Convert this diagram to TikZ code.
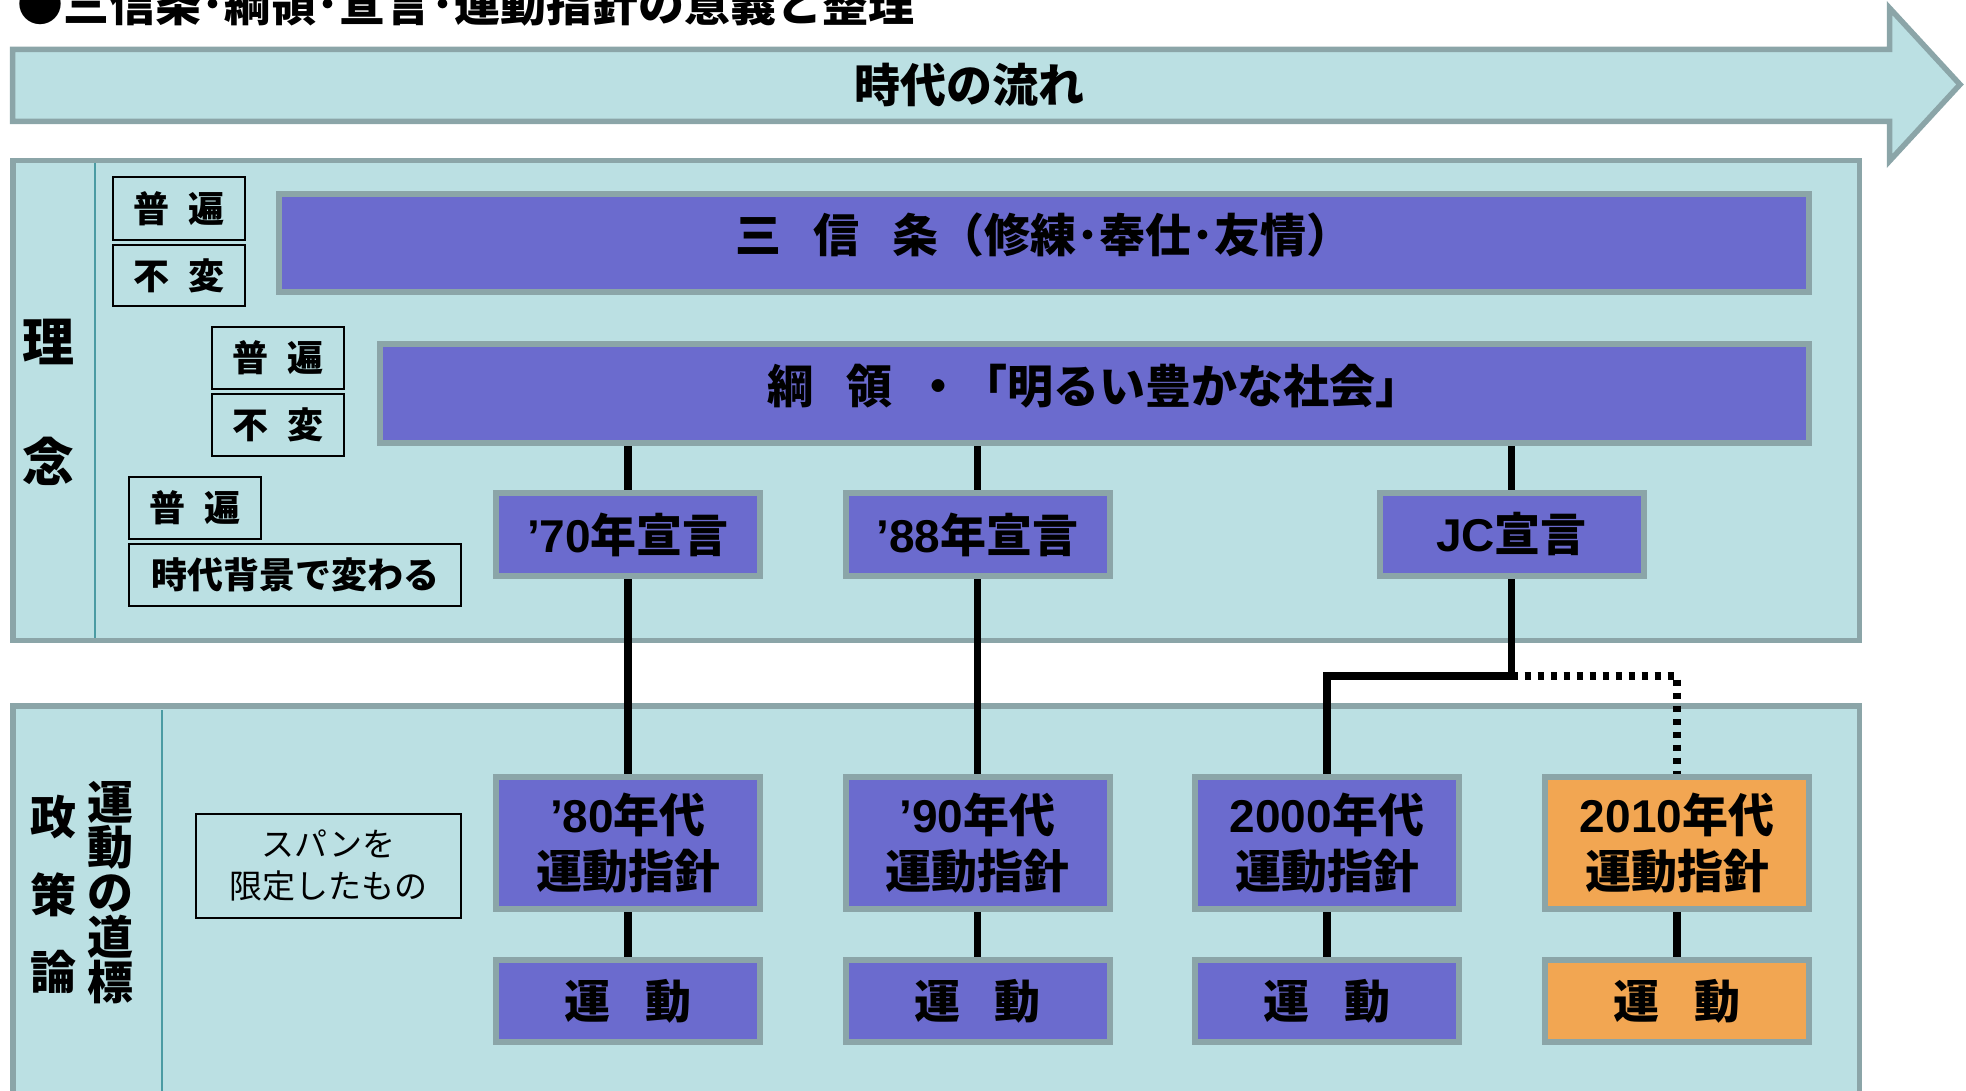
\documentclass[tikz,border=0pt]{standalone}
\usepackage{fontspec}
\setmainfont{Noto Sans CJK JP}
\newfontfamily\latinf{Liberation Sans}
\newcommand\latn[1]{{\latinf #1}}
\definecolor{panelc}{HTML}{BBE0E3}
\definecolor{greyc}{HTML}{8BA5A8}
\definecolor{purplec}{HTML}{6B6BCE}
\definecolor{orangec}{HTML}{F2A652}
\definecolor{tealc}{HTML}{4A9BA3}
\pgfdeclarelayer{bg}
\pgfdeclarelayer{conn}
\pgfsetlayers{bg,conn,main}
\begin{document}
\begin{tikzpicture}[x=1pt,y=-1pt,
  pbox/.style={draw=greyc, fill=purplec, line width=6pt, inner sep=0pt, minimum width=264pt,
    font=\fontsize{46}{56}\selectfont\bfseries, align=center},
  widebox/.style={pbox, text height=19.4pt, text depth=0pt},
  declbox/.style={pbox, minimum height=83pt},
  guidebox/.style={pbox, minimum height=132pt},
  actbox/.style={pbox, minimum height=82pt},
  orangebox/.style={fill=orangec},
  lbox/.style={draw=black, line width=1.7pt, inner sep=0pt, font=\fontsize{36}{40}\selectfont\bfseries},
  conn/.style={line width=7.5pt, black},
  dotconn/.style={conn, dash pattern=on 6pt off 7pt},
  panel/.style={draw=greyc, fill=panelc, line width=5.5pt},
  divline/.style={draw=tealc, line width=2pt},
  sidelabel/.style={inner sep=0pt, align=center}
]
\path[use as bounding box] (0,0) rectangle (1966,1091);

\begin{pgfonlayer}{bg}
  \draw[panel] (12.5,49.5) -- (1889.5,49.5) -- (1889.5,8) -- (1960,84.5) -- (1889.5,161) -- (1889.5,121.5) -- (12.5,121.5) -- cycle;
  \draw[panel] (12.75,160.75) rectangle (1859.25,640.25);
  \draw[panel] (12.75,705.75) rectangle (1859.25,1200);
  \draw[divline] (95,163) -- (95,638);
  \draw[divline] (162,710) -- (162,1100);
\end{pgfonlayer}

% title and flow text
\node[anchor=base west, inner sep=0pt, font=\fontsize{46}{50}\selectfont\bfseries] (title) at (17,22) {●三信条･綱領･宣言･運動指針の意義と整理};
\node[inner sep=0pt, font=\fontsize{46}{50}\selectfont\bfseries] (flow) at (969,85) {時代の流れ};

% side labels
\node[sidelabel, font=\fontsize{52}{120}\selectfont\bfseries] (rinen) at (48,402) {理\\念};
\node[sidelabel, font=\fontsize{46}{77.5}\selectfont\bfseries] (seisaku) at (53,894.5) {政\\策\\論};
\node[sidelabel, font=\fontsize{46}{45}\selectfont\bfseries] (michi) at (110,893) {運\\動\\の\\道\\標};

% small label boxes
\node[lbox, minimum width=132pt, minimum height=63pt] (fu1) at (179,208.5) {普\hspace{0.53em}遍};
\node[lbox, minimum width=132pt, minimum height=61pt] (hen1) at (179,275.5) {不\hspace{0.53em}変};
\node[lbox, minimum width=132pt, minimum height=62pt] (fu2) at (278,358) {普\hspace{0.53em}遍};
\node[lbox, minimum width=132pt, minimum height=62pt] (hen2) at (278,425) {不\hspace{0.53em}変};
\node[lbox, minimum width=132pt, minimum height=62pt] (fu3) at (195,508) {普\hspace{0.53em}遍};
\node[lbox, minimum width=332pt, minimum height=62pt] (jidai) at (295,575) {時代背景で変わる};
\node[lbox, minimum width=265pt, minimum height=104pt, align=center, font=\fontsize{33}{42}\selectfont] (span) at (328.5,866) {スパンを\\限定したもの};

% main boxes
\node[widebox, minimum width=1530pt, minimum height=98pt] (sanshin) at (1044,243) {三\hspace{0.7em}信\hspace{0.7em}条（修練･奉仕･友情）};
\node[widebox, minimum width=1429pt, minimum height=99pt] (kouryou) at (1094.5,393.5) {綱\hspace{0.7em}領\hspace{0.5em}・「明るい豊かな社会」};

\node[declbox] (d70) at (628,534.5) {\latn{’70}年宣言};
\node[declbox] (d88) at (977.5,534.5) {\latn{’88}年宣言};
\node[declbox] (jc) at (1511.5,534.5) {\latn{JC}宣言};

\node[guidebox] (g80) at (628,843) {\latn{’80}年代\\運動指針};
\node[guidebox] (g90) at (977.5,843) {\latn{’90}年代\\運動指針};
\node[guidebox] (g2000) at (1327,843) {\latn{2000}年代\\運動指針};
\node[guidebox, orangebox] (g2010) at (1677,843) {\latn{2010}年代\\運動指針};

\node[actbox] (a80) at (628,1001) {運\hspace{0.74em}動};
\node[actbox] (a90) at (977.5,1001) {運\hspace{0.74em}動};
\node[actbox] (a2000) at (1327,1001) {運\hspace{0.74em}動};
\node[actbox, orangebox] (a2010) at (1677,1001) {運\hspace{0.74em}動};

\coordinate (jcturn) at (1511.5,676);

\begin{pgfonlayer}{conn}
  \draw[conn] (kouryou.south -| d70.center) -- (d70.north);
  \draw[conn] (kouryou.south -| d88.center) -- (d88.north);
  \draw[conn] (kouryou.south -| jc.center) -- (jc.north);
  \draw[conn] (d70.south) -- (g80.north);
  \draw[conn] (d88.south) -- (g90.north);
  \draw[conn] (jc.south) -- (jcturn) -| (g2000.north);
  \draw[dotconn] (jcturn) -| (g2010.north);
  \draw[conn] (g80.south) -- (a80.north);
  \draw[conn] (g90.south) -- (a90.north);
  \draw[conn] (g2000.south) -- (a2000.north);
  \draw[conn] (g2010.south) -- (a2010.north);
\end{pgfonlayer}
\end{tikzpicture}
\end{document}
